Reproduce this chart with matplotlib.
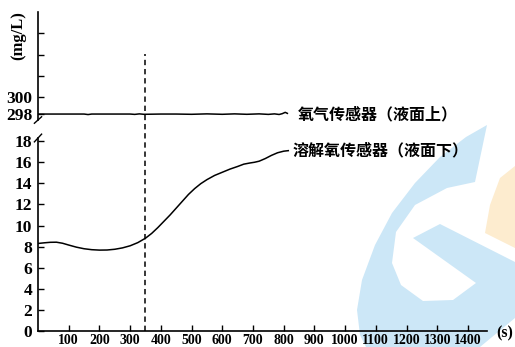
import matplotlib.pyplot as plt
from matplotlib.patches import Polygon
from matplotlib.lines import Line2D

# oxygen sensor above the liquid surface (mg/L)
time_o2 = [0, 100, 150, 163, 175, 230, 300, 315, 330, 345, 400, 450, 500, 550,
           600, 640, 680, 720, 750, 770, 785, 795, 805, 812]
o2_vals = [298.0, 298.0, 298.0, 297.94, 298.0, 298.0, 298.0, 297.96, 298.02, 297.97,
           298.0, 298.0, 297.97, 298.02, 297.97, 298.02, 297.97, 298.02, 297.96,
           298.02, 297.95, 298.04, 298.2, 298.08]

# dissolved oxygen sensor below the surface (mg/L)
time_do = [0, 20, 40, 60, 80, 100, 125, 150, 175, 200, 225, 250, 275, 300, 325,
           350, 370, 390, 410, 430, 450, 470, 490, 510, 530, 550, 575, 600, 625,
           650, 670, 690, 705, 720, 740, 760, 780, 800, 815]
do_vals = [8.3, 8.36, 8.41, 8.42, 8.32, 8.15, 7.95, 7.8, 7.71, 7.67, 7.68, 7.75,
           7.88, 8.08, 8.38, 8.8, 9.25, 9.8, 10.4, 11.0, 11.65, 12.3, 12.95, 13.5,
           13.97, 14.35, 14.75, 15.05, 15.35, 15.6, 15.82, 15.93, 16.0, 16.1, 16.35,
           16.65, 16.9, 17.05, 17.1]

x_ticks = list(range(100, 1500, 100))
low_ticks = list(range(0, 20, 2))
up_ticks = [298, 300, 302.5, 305, 307.5]
up_labels = ['298', '300', '', '', '']
t_add = 350  # time the dashed marker is drawn at

W, H = 515, 347
fig = plt.figure(figsize=(W / 100, H / 100), dpi=100)

def px(x, y):
    return (x / W, 1 - y / H)

# light logo in the background
blue_pts = [(487, 125), (466, 137), (440, 157), (415, 183), (392, 213), (375, 245),
            (362, 280), (357, 310), (360, 335), (366, 347), (480, 347), (515, 318),
            (515, 262), (440, 224), (413, 238), (476, 283), (453, 300), (423, 301),
            (401, 285), (392, 263), (396, 232), (415, 205), (447, 188), (475, 182)]
orange_pts = [(500, 178), (515, 166), (515, 248), (485, 233), (490, 205)]
fig.add_artist(Polygon([px(*p) for p in blue_pts], closed=True, transform=fig.transFigure,
                       facecolor='#cce7f7', edgecolor='none', zorder=0))
fig.add_artist(Polygon([px(*p) for p in orange_pts], closed=True, transform=fig.transFigure,
                       facecolor='#fdeccf', edgecolor='none', zorder=0))

left, width = 38 / W, (487 - 38) / W
ax_up = fig.add_axes([left, (H - 120) / H, width, 108 / H])
ax_lo = fig.add_axes([left, (H - 331) / H, width, 193 / H])

tick_font = dict(family='Liberation Serif', weight='bold')
cjk_font = dict(family=['Noto Sans CJK SC', 'DejaVu Sans'], weight='bold', size=11.5)

for ax in (ax_up, ax_lo):
    ax.set_facecolor('none')
    ax.set_xlim(0, 1462)
    for s in ('top', 'right'):
        ax.spines[s].set_visible(False)
    ax.spines['left'].set_linewidth(1.2)
    ax.spines['bottom'].set_linewidth(1.2)
    ax.tick_params(direction='in', length=4, width=1.0, color='black')

ax_up.spines['bottom'].set_visible(False)
ax_up.set_xticks([])
ax_up.set_ylim(297.3, 310)
ax_up.set_yticks(up_ticks)
ax_up.set_yticklabels(up_labels, fontsize=12.5, **tick_font)
ax_up.tick_params(axis='y', pad=4)

ax_lo.set_ylim(0, 18.3)
ax_lo.set_yticks(low_ticks)
ax_lo.set_yticklabels([str(v) for v in low_ticks], fontsize=12.5, **tick_font)
ax_lo.set_xticks(x_ticks)
ax_lo.set_xticklabels([str(v) for v in x_ticks], fontsize=10, **tick_font)
ax_lo.tick_params(axis='y', pad=4)
ax_lo.tick_params(axis='x', pad=2.5)

ax_up.plot(time_o2, o2_vals, color='black', lw=1.1)
ax_lo.plot(time_do, do_vals, color='black', lw=1.1)

# dashed marker runs through both panels
ax_lo.plot([t_add, t_add], [0, 26.3], color='black', lw=1.1, ls=(0, (3.5, 2.5)),
           clip_on=False)

ax_up.text(time_o2[-1] + 35, o2_vals[0], '氧气传感器（液面上）', va='center', ha='left',
           **cjk_font)
ax_lo.text(time_do[-1] + 15, 17.1, '溶解氧传感器（液面下）', va='center', ha='left',
           **cjk_font)

# axis break marks
for ax, y0, dy in ((ax_up, 0.0, 0.03), (ax_lo, 1.0, 0.02)):
    ax.add_line(Line2D([-0.008, 0.008], [y0 - dy, y0 + dy], transform=ax.transAxes,
                       color='black', lw=1.0, clip_on=False))

fig.text(*px(18, 36), '(mg/L)', rotation=90, ha='center', va='center', fontsize=12,
         **tick_font)
fig.text(*px(505, 333), '(s)', ha='center', va='center', fontsize=11.5, **tick_font)

fig.savefig('out.png', dpi=100)
